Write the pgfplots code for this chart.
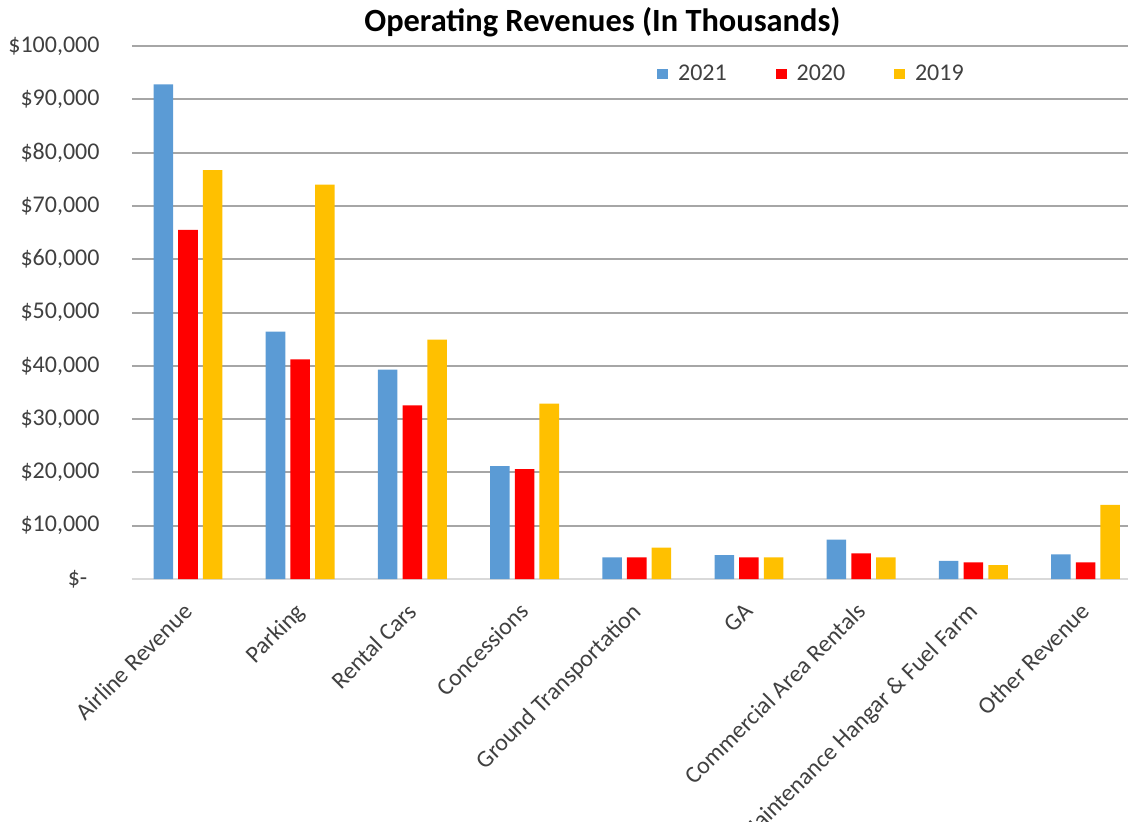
\documentclass[border=0pt]{standalone}
\usepackage{pgfplots}
\pgfplotsset{compat=1.18}
\usepackage{fontspec}
\setmainfont{Carlito}
\definecolor{c21}{HTML}{5B9BD5}
\definecolor{c20}{HTML}{FF0000}
\definecolor{c19}{HTML}{FFC000}
\definecolor{gridc}{HTML}{A6A6A6}
\definecolor{basec}{HTML}{D9D9D9}
\definecolor{txt}{HTML}{404040}
\pgfplotsset{sqleg/.style={legend image code/.code={\fill[##1] (0pt,-2.7pt) rectangle (5.4pt,2.7pt); \path (8.4pt,0pt);}}}
\begin{document}
\begin{tikzpicture}
\begin{axis}[
  scale only axis, width=504.85pt, height=266.5pt,
  xmin=-0.5, xmax=8.5, ymin=0, ymax=100000,
  scaled y ticks=false,
  axis x line*=bottom, axis y line*=left,
  y axis line style={draw=none},
  x axis line style={draw=basec, line width=1pt},
  major tick length=0pt,
  xtick={0,...,8},
  xticklabels={Airline Revenue, Parking, Rental Cars, Concessions, Ground Transportation, GA, Commercial Area Rentals, Maintenance Hangar \& Fuel Farm, Other Revenue},
  xticklabel style={xshift=-3pt, yshift=-11pt, rotate=45, anchor=north east, inner sep=0pt, font=\fontsize{12}{14}\selectfont, text=txt},
  ytick={0,10000,...,100000},
  yticklabels={{\$-\phantom{0}},{\$10,000},{\$20,000},{\$30,000},{\$40,000},{\$50,000},{\$60,000},{\$70,000},{\$80,000},{\$90,000},{\$100,000}},
  yticklabel style={anchor=east, inner sep=0pt, xshift=-16pt, font=\fontsize{12}{14}\selectfont, text=txt},
  ymajorgrids, grid style={draw=gridc, line width=1pt},
  ybar, bar width=0.174,
  title={Operating Revenues (In Thousands)},
  title style={at={(0.466,1.0225)}, anchor=center, yshift=0pt, inner sep=0pt, font=\bfseries\fontsize{16.2}{19}\selectfont, text=black},
  legend columns=3,
  legend style={draw=none, fill=none, inner sep=0pt, at={(0.52,0.9475)}, anchor=west, font=\fontsize{12}{14}\selectfont, text=txt, /tikz/every even column/.append style={column sep=22.5pt}},
]
\addplot[fill=c21, draw=none, bar shift=-0.22, sqleg] coordinates {(0,92800) (1,46400) (2,39300) (3,21200) (4,4050) (5,4500) (6,7400) (7,3400) (8,4600)};
\addlegendentry{2021}
\addplot[fill=c20, draw=none, bar shift=0, sqleg] coordinates {(0,65500) (1,41200) (2,32600) (3,20600) (4,4050) (5,4050) (6,4800) (7,3100) (8,3100)};
\addlegendentry{2020}
\addplot[fill=c19, draw=none, bar shift=0.22, sqleg] coordinates {(0,76700) (1,74000) (2,44900) (3,32900) (4,5900) (5,4050) (6,4050) (7,2600) (8,13900)};
\addlegendentry{2019}
\end{axis}
\pgfresetboundingbox
\path[use as bounding box] (-65.95pt,-121pt) rectangle (498.05pt,289.5pt);
\end{tikzpicture}
\end{document}
